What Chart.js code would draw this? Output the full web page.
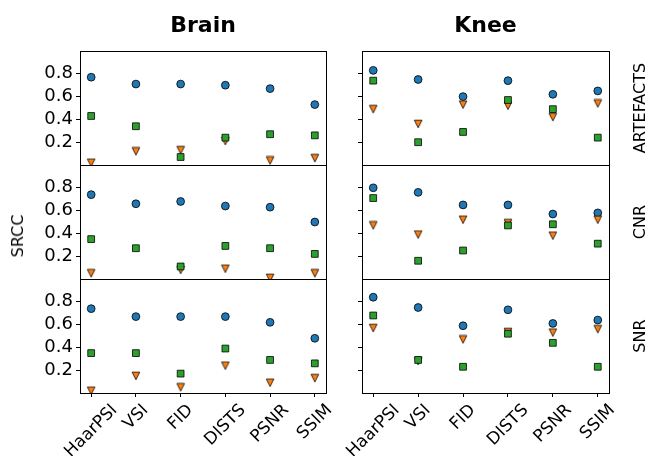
<!DOCTYPE html>
<html>
<head>
<meta charset="utf-8">
<script src="https://cdn.jsdelivr.net/npm/chart.js@4/dist/chart.umd.min.js"></script>
<style>
  html, body { margin: 0; padding: 0; background: #fff; }
  #fig { position: relative; width: 648px; height: 456px; overflow: hidden;
         font-family: "DejaVu Sans", sans-serif; color: #000; }
  #fig canvas { position: absolute; left: 0; top: 0; }
  .lbl { position: absolute; white-space: nowrap; line-height: 1; }
  .title { font-weight: bold; font-size: 22px; transform: translateX(-50%); }
  .rot { font-size: 16px; transform: translate(-50%, -50%) rotate(-90deg); }
</style>
</head>
<body>
<div id="fig">
  <canvas id="brainArtefacts" width="648" height="456"></canvas>
  <canvas id="brainCnr" width="648" height="456"></canvas>
  <canvas id="brainSnr" width="648" height="456"></canvas>
  <canvas id="kneeArtefacts" width="648" height="456"></canvas>
  <canvas id="kneeCnr" width="648" height="456"></canvas>
  <canvas id="kneeSnr" width="648" height="456"></canvas>
  <div class="lbl title" style="left:203px; top:14px;">Brain</div>
  <div class="lbl title" style="left:485.5px; top:14px;">Knee</div>
  <div class="lbl rot" style="left:18px; top:236px;">SRCC</div>
  <div class="lbl rot" style="left:640px; top:108px;">ARTEFACTS</div>
  <div class="lbl rot" style="left:640px; top:222px;">CNR</div>
  <div class="lbl rot" style="left:640px; top:336px;">SNR</div>
</div>
<script>
// Image-quality metrics on the x axis
const metrics = ['HaarPSI', 'VSI', 'FID', 'DISTS', 'PSNR', 'SSIM'];
const yTicks = [0.2, 0.4, 0.6, 0.8];

// SRCC per metric: series 1 (circles), series 2 (squares), series 3 (triangles)
const brainArtefacts1 = [0.77, 0.71, 0.71, 0.70, 0.67, 0.53];
const brainArtefacts2 = [0.43, 0.34, 0.07, 0.24, 0.27, 0.26];
const brainArtefacts3 = [0.02, 0.12, 0.13, 0.21, 0.04, 0.06];

const brainCnr1 = [0.74, 0.66, 0.68, 0.64, 0.63, 0.50];
const brainCnr2 = [0.35, 0.27, 0.11, 0.29, 0.27, 0.22];
const brainCnr3 = [0.05, -0.04, 0.08, 0.09, 0.01, 0.05];

const brainSnr1 = [0.74, 0.67, 0.67, 0.67, 0.62, 0.48];
const brainSnr2 = [0.35, 0.35, 0.17, 0.39, 0.29, 0.26];
const brainSnr3 = [0.02, 0.15, 0.05, 0.24, 0.09, 0.13];

const kneeArtefacts1 = [0.83, 0.75, 0.60, 0.74, 0.62, 0.65];
const kneeArtefacts2 = [0.74, 0.20, 0.29, 0.57, 0.49, 0.24];
const kneeArtefacts3 = [0.49, 0.36, 0.53, 0.52, 0.42, 0.54];

const kneeCnr1 = [0.80, 0.76, 0.65, 0.65, 0.57, 0.58];
const kneeCnr2 = [0.71, 0.16, 0.25, 0.47, 0.48, 0.31];
const kneeCnr3 = [0.47, 0.39, 0.52, 0.49, 0.38, 0.52];

const kneeSnr1 = [0.84, 0.75, 0.59, 0.73, 0.61, 0.64];
const kneeSnr2 = [0.68, 0.29, 0.23, 0.52, 0.44, 0.23];
const kneeSnr3 = [0.57, 0.28, 0.47, 0.535, 0.53, 0.56];

const W = 648, H = 456;
const BLUE = '#1f77b4', ORANGE = '#ff7f0e', GREEN = '#2ca02c';
const FONT = '"DejaVu Sans", sans-serif';
const Y_TICK_FONT_SIZE = 18;
const X_TICK_FONT_SIZE = 17;

Chart.defaults.font.family = FONT;
Chart.defaults.color = '#000';

// down-pointing triangle marker
function downTriangle(size, fill) {
  const pad = 1;
  const c = document.createElement('canvas');
  c.width = c.height = Math.ceil(size + 2 * pad);
  const g = c.getContext('2d');
  const o = (c.width - size) / 2;
  g.beginPath();
  g.moveTo(o, o);
  g.lineTo(o + size, o);
  g.lineTo(o + size / 2, o + size);
  g.closePath();
  g.fillStyle = fill;
  g.fill();
  g.lineWidth = 0.8;
  g.strokeStyle = '#000';
  g.stroke();
  return c;
}
const triangleMarker = downTriangle(7.6, ORANGE);

// box around the plotting area
const framePlugin = {
  id: 'frame',
  afterDraw(chart) {
    const a = chart.chartArea, ctx = chart.ctx;
    ctx.save();
    ctx.strokeStyle = '#000';
    ctx.lineWidth = 1;
    ctx.strokeRect(a.left + 0.5, a.top + 0.5, a.right - a.left, a.bottom - a.top);
    ctx.restore();
  }
};

// 45° category labels centred under their ticks
const slantLabels = {
  id: 'slantLabels',
  afterDraw(chart, args, opts) {
    if (!opts.show) return;
    const xs = chart.scales.x, ctx = chart.ctx;
    const size = X_TICK_FONT_SIZE;
    ctx.save();
    ctx.font = size + 'px ' + FONT;
    ctx.fillStyle = '#000';
    ctx.textAlign = 'center';
    ctx.textBaseline = 'middle';
    metrics.forEach((m, i) => {
      const px = xs.getPixelForValue(i);
      const L = ctx.measureText(m).width;
      const half = (L + size * 1.17) / Math.SQRT2 / 2;
      const cy = chart.chartArea.bottom + 4 + 3.5 + half;
      ctx.save();
      ctx.translate(px, cy);
      ctx.rotate(-Math.PI / 4);
      ctx.fillText(m, 0, 0);
      ctx.restore();
    });
    ctx.restore();
  }
};

function points(vals) {
  return vals.map((v, i) => ({ x: i, y: v }));
}

function panel(id, rect, s1, s2, s3, showY, showX) {
  const tickGrid = { drawOnChartArea: false, drawTicks: true, tickLength: 4, color: '#000', lineWidth: 1 };
  new Chart(document.getElementById(id), {
    type: 'scatter',
    data: {
      datasets: [
        { data: points(s2), pointStyle: 'rect', pointRadius: 4.8, backgroundColor: GREEN,
          borderColor: '#000', borderWidth: 0.8, clip: 0 },
        { data: points(s3), pointStyle: triangleMarker, pointRadius: 4, backgroundColor: ORANGE,
          borderColor: '#000', borderWidth: 0.8, clip: 0 },
        { data: points(s1), pointStyle: 'circle', pointRadius: 3.9, backgroundColor: BLUE,
          borderColor: '#000', borderWidth: 0.8, clip: 0 }
      ]
    },
    options: {
      responsive: false,
      animation: false,
      devicePixelRatio: 1,
      events: [],
      layout: { padding: { left: 0, top: rect.top, right: W - rect.right,
                           bottom: showX ? 0 : H - rect.bottom } },
      plugins: { legend: { display: false }, tooltip: { enabled: false },
                 slantLabels: { show: showX } },
      scales: {
        x: {
          type: 'linear', min: -0.25, max: 5.25, display: showX,
          afterBuildTicks: s => { s.ticks = metrics.map((m, i) => ({ value: i })); },
          afterFit: s => { if (showX) s.height = H - rect.bottom; },
          grid: tickGrid,
          border: { display: false },
          ticks: { display: false }
        },
        y: {
          type: 'linear', min: 0, max: 1,
          afterBuildTicks: s => { s.ticks = yTicks.map(v => ({ value: v })); },
          afterFit: s => { s.width = rect.left; },
          grid: tickGrid,
          border: { display: false },
          ticks: { padding: 3, color: '#000', font: { size: Y_TICK_FONT_SIZE, family: FONT },
                   callback: v => showY ? v.toFixed(1) : '' }
        }
      }
    },
    plugins: [framePlugin, slantLabels]
  });
}

const brainCol = { left: 80, right: 326 };
const kneeCol = { left: 362, right: 609 };
const rows = [{ top: 51, bottom: 165 }, { top: 165, bottom: 279 }, { top: 279, bottom: 393 }];
const box = (c, r) => ({ left: c.left, right: c.right, top: r.top, bottom: r.bottom });

panel('brainArtefacts', box(brainCol, rows[0]), brainArtefacts1, brainArtefacts2, brainArtefacts3, true, false);
panel('brainCnr', box(brainCol, rows[1]), brainCnr1, brainCnr2, brainCnr3, true, false);
panel('brainSnr', box(brainCol, rows[2]), brainSnr1, brainSnr2, brainSnr3, true, true);
panel('kneeArtefacts', box(kneeCol, rows[0]), kneeArtefacts1, kneeArtefacts2, kneeArtefacts3, false, false);
panel('kneeCnr', box(kneeCol, rows[1]), kneeCnr1, kneeCnr2, kneeCnr3, false, false);
panel('kneeSnr', box(kneeCol, rows[2]), kneeSnr1, kneeSnr2, kneeSnr3, false, true);
</script>
</body>
</html>
